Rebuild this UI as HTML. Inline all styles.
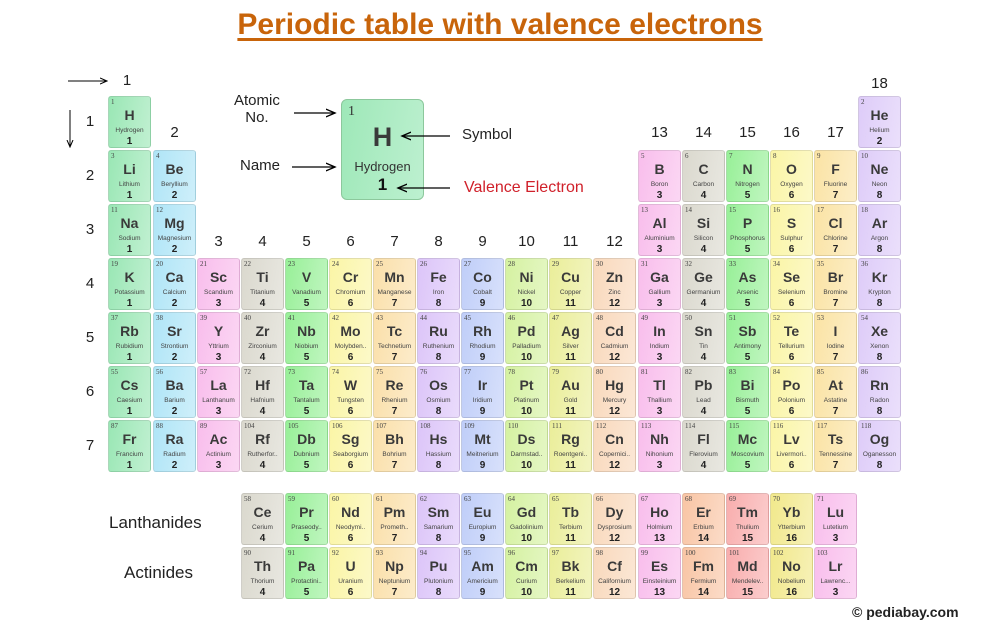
<!DOCTYPE html>
<html><head><meta charset="utf-8">
<style>
body{margin:0;width:1000px;height:625px;background:#fff;position:relative;overflow:hidden;font-family:"Liberation Sans",sans-serif;}
.t{position:absolute;white-space:nowrap}
.cell{position:absolute;width:43px;height:52px;border-radius:3px;box-sizing:border-box;border:1px solid rgba(0,0,0,0.10);color:#333;text-align:center}
.cell .n{position:absolute;left:2px;top:1px;font-family:"Liberation Serif",serif;font-size:7px;color:#444}
.cell .s{position:absolute;left:0;right:0;top:10px;font-weight:bold;font-size:14px;color:#3a3a3a}
.cell .nm{position:absolute;left:-2px;right:-2px;top:30px;font-size:6.5px;color:#444;overflow:hidden}
.cell .v{position:absolute;left:0;right:0;top:39px;font-weight:bold;font-size:10px;color:#222}
.lbl{position:absolute;font-size:15px;color:#222;transform:translateX(-50%)}
</style></head><body>
<div class="t" style="left:0;width:1000px;text-align:center;top:8px;font-family:'Liberation Sans Narrow','Liberation Sans',sans-serif;font-weight:bold;font-size:30px;color:#c8640a;text-decoration:underline;text-decoration-thickness:3px;text-underline-offset:4px">Periodic table with valence electrons</div>

<div class="t" style="left:234px;top:92px;font-size:15px;text-align:center;line-height:17px;color:#222">Atomic<br>No.</div>
<div class="t" style="left:240px;top:157px;font-size:15px;color:#222">Name</div>
<div class="t" style="left:462px;top:126px;font-size:15px;color:#222">Symbol</div>
<div class="t" style="left:464px;top:179px;font-size:16px;color:#d0202a">Valence Electron</div>

<div style="position:absolute;left:341px;top:99px;width:83px;height:101px;border-radius:6px;background:linear-gradient(100deg,#9ee8b8,#bdf0d0);border:1px solid #8cc89c;box-sizing:border-box;text-align:center;color:#333">
<div style="position:absolute;left:6px;top:4px;font-family:'Liberation Serif',serif;font-size:14px">1</div>
<div style="position:absolute;left:0;right:0;top:22px;font-weight:bold;font-size:27px;color:#3a3a3a">H</div>
<div style="position:absolute;left:0;right:0;top:59px;font-size:13px">Hydrogen</div>
<div style="position:absolute;left:0;right:0;top:75px;font-weight:bold;font-size:17px;color:#111">1</div>
</div>

<svg width="1000" height="625" style="position:absolute;left:0;top:0;z-index:5">
<defs><marker id="ah" markerWidth="8" markerHeight="8" refX="7" refY="4" orient="auto"><path d="M0,1 L7,4 L0,7" fill="none" stroke="#000" stroke-width="1"/></marker></defs>
<line x1="68" y1="81" x2="107" y2="81" stroke="#000" stroke-width="1" marker-end="url(#ah)"/>
<line x1="70" y1="110" x2="70" y2="147" stroke="#000" stroke-width="1" marker-end="url(#ah)"/>
<line x1="294" y1="113" x2="335" y2="113" stroke="#000" stroke-width="1.3" marker-end="url(#ah)"/>
<line x1="292" y1="167" x2="335" y2="167" stroke="#000" stroke-width="1.3" marker-end="url(#ah)"/>
<line x1="450" y1="136" x2="402" y2="136" stroke="#000" stroke-width="1.3" marker-end="url(#ah)"/>
<line x1="450" y1="188" x2="398" y2="188" stroke="#000" stroke-width="1.3" marker-end="url(#ah)"/>
</svg>

<div class="t" style="left:109px;top:513px;font-size:17px;color:#222">Lanthanides</div>
<div class="t" style="left:124px;top:563px;font-size:17px;color:#222">Actinides</div>
<div class="t" style="left:852px;top:604px;font-size:14px;font-weight:bold;color:#222">© pediabay.com</div>

<div id="root"></div>
<script>
const colX=[0,108,153,197,241,285,329,373,417,461,505,549,593,638,682,726,770,814,858];
const rowY=[0,96,150,204,258,312,366,420];
const groupColors=[null,"#8ee4ac","#a6e2f6","#f8b6ea","#d6d4c8","#8cee8c","#faf49c","#fadca0","#d8bef8","#b8c8f8","#d0f096","#e8ec8e","#f8d4b4","#f8b6ea","#d6d4c8","#8cee8c","#faf49c","#fae09a","#dac6f8"];
const elements=[
[1,"H","Hydrogen",1,1],[2,"He","Helium",1,18],
[3,"Li","Lithium",2,1],[4,"Be","Beryllium",2,2],[5,"B","Boron",2,13],[6,"C","Carbon",2,14],[7,"N","Nitrogen",2,15],[8,"O","Oxygen",2,16],[9,"F","Fluorine",2,17],[10,"Ne","Neon",2,18],
[11,"Na","Sodium",3,1],[12,"Mg","Magnesium",3,2],[13,"Al","Aluminium",3,13],[14,"Si","Silicon",3,14],[15,"P","Phosphorus",3,15],[16,"S","Sulphur",3,16],[17,"Cl","Chlorine",3,17],[18,"Ar","Argon",3,18],
[19,"K","Potassium",4,1],[20,"Ca","Calcium",4,2],[21,"Sc","Scandium",4,3],[22,"Ti","Titanium",4,4],[23,"V","Vanadium",4,5],[24,"Cr","Chromium",4,6],[25,"Mn","Manganese",4,7],[26,"Fe","Iron",4,8],[27,"Co","Cobalt",4,9],[28,"Ni","Nickel",4,10],[29,"Cu","Copper",4,11],[30,"Zn","Zinc",4,12],[31,"Ga","Gallium",4,13],[32,"Ge","Germanium",4,14],[33,"As","Arsenic",4,15],[34,"Se","Selenium",4,16],[35,"Br","Bromine",4,17],[36,"Kr","Krypton",4,18],
[37,"Rb","Rubidium",5,1],[38,"Sr","Strontium",5,2],[39,"Y","Yttrium",5,3],[40,"Zr","Zirconium",5,4],[41,"Nb","Niobium",5,5],[42,"Mo","Molybden..",5,6],[43,"Tc","Technetium",5,7],[44,"Ru","Ruthenium",5,8],[45,"Rh","Rhodium",5,9],[46,"Pd","Palladium",5,10],[47,"Ag","Silver",5,11],[48,"Cd","Cadmium",5,12],[49,"In","Indium",5,13],[50,"Sn","Tin",5,14],[51,"Sb","Antimony",5,15],[52,"Te","Tellurium",5,16],[53,"I","Iodine",5,17],[54,"Xe","Xenon",5,18],
[55,"Cs","Caesium",6,1],[56,"Ba","Barium",6,2],[57,"La","Lanthanum",6,3],[72,"Hf","Hafnium",6,4],[73,"Ta","Tantalum",6,5],[74,"W","Tungsten",6,6],[75,"Re","Rhenium",6,7],[76,"Os","Osmium",6,8],[77,"Ir","Iridium",6,9],[78,"Pt","Platinum",6,10],[79,"Au","Gold",6,11],[80,"Hg","Mercury",6,12],[81,"Tl","Thallium",6,13],[82,"Pb","Lead",6,14],[83,"Bi","Bismuth",6,15],[84,"Po","Polonium",6,16],[85,"At","Astatine",6,17],[86,"Rn","Radon",6,18],
[87,"Fr","Francium",7,1],[88,"Ra","Radium",7,2],[89,"Ac","Actinium",7,3],[104,"Rf","Rutherfor..",7,4],[105,"Db","Dubnium",7,5],[106,"Sg","Seaborgium",7,6],[107,"Bh","Bohrium",7,7],[108,"Hs","Hassium",7,8],[109,"Mt","Meitnerium",7,9],[110,"Ds","Darmstad..",7,10],[111,"Rg","Roentgeni..",7,11],[112,"Cn","Copernici..",7,12],[113,"Nh","Nihonium",7,13],[114,"Fl","Flerovium",7,14],[115,"Mc","Moscovium",7,15],[116,"Lv","Livermori..",7,16],[117,"Ts","Tennessine",7,17],[118,"Og","Oganesson",7,18]
];
const lanth=[[58,"Ce","Cerium",4],[59,"Pr","Praseody..",5],[60,"Nd","Neodymi..",6],[61,"Pm","Prometh..",7],[62,"Sm","Samarium",8],[63,"Eu","Europium",9],[64,"Gd","Gadolinium",10],[65,"Tb","Terbium",11],[66,"Dy","Dysprosium",12],[67,"Ho","Holmium",13],[68,"Er","Erbium",14],[69,"Tm","Thulium",15],[70,"Yb","Ytterbium",16],[71,"Lu","Lutetium",3]];
const actin=[[90,"Th","Thorium",4],[91,"Pa","Protactini..",5],[92,"U","Uranium",6],[93,"Np","Neptunium",7],[94,"Pu","Plutonium",8],[95,"Am","Americium",9],[96,"Cm","Curium",10],[97,"Bk","Berkelium",11],[98,"Cf","Californium",12],[99,"Es","Einsteinium",13],[100,"Fm","Fermium",14],[101,"Md","Mendelev..",15],[102,"No","Nobelium",16],[103,"Lr","Lawrenc...",3]];
const fColors=["#d6d4c8","#8cee8c","#faf49c","#fadca0","#d8bef8","#b8c8f8","#d0f096","#e8ec8e","#f8d4b4","#f8b6ea","#f8be9a","#f8a4a4","#f0e67e","#f8b6ea"];
const root=document.getElementById('root');
function valence(z,g){if(z===2)return 2;if(g<=12)return g;if(g===18)return 8;return g-10;}
function cell(x,y,z,sym,name,val,color){
  const d=document.createElement('div');
  d.className='cell';
  
  
  d.style.left=x+'px';d.style.top=y+'px';
  d.style.background="linear-gradient(100deg,rgba(255,255,255,0.1) 0%,rgba(255,255,255,0.45) 100%),"+color;
  d.innerHTML='<div class="n">'+z+'</div><div class="s">'+sym+'</div><div class="nm">'+name+'</div><div class="v">'+val+'</div>';
  root.appendChild(d);
}
elements.forEach(e=>cell(colX[e[4]],rowY[e[3]],e[0],e[1],e[2],valence(e[0],e[4]),groupColors[e[4]]));
lanth.forEach((e,i)=>cell(colX[4+i],493,e[0],e[1],e[2],e[3],fColors[i]));
actin.forEach((e,i)=>cell(colX[4+i],547,e[0],e[1],e[2],e[3],fColors[i]));
const groupLabelY=[0,72,124,233,233,233,233,233,233,233,233,233,233,124,124,124,124,124,75];
for(let g=1;g<=18;g++){
  const l=document.createElement('div');
  l.className='lbl';
  
  
  l.style.left=(g===1?127:colX[g]+21.5)+'px';
  l.style.top=groupLabelY[g]+'px';
  l.textContent=g;
  root.appendChild(l);
}
for(let p=1;p<=7;p++){
  const l=document.createElement('div');
  l.className='lbl';
  
  
  l.style.left='90px';
  l.style.top=(rowY[p]+17)+'px';
  l.textContent=p;
  root.appendChild(l);
}
</script>
</body></html>
